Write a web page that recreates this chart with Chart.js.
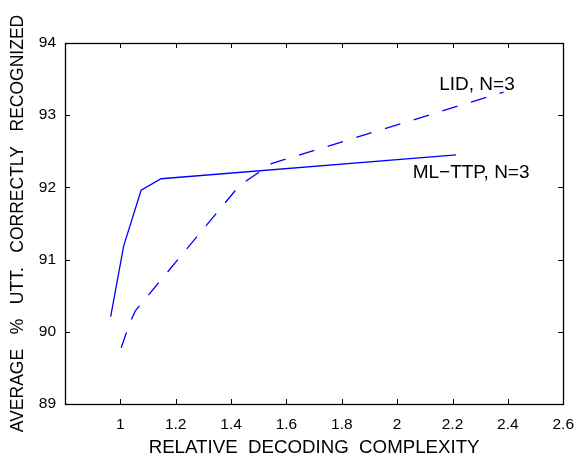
<!DOCTYPE html>
<html>
<head>
<meta charset="utf-8">
<script src="https://cdn.jsdelivr.net/npm/chart.js@4.4.1/dist/chart.umd.min.js"></script>
<style>
  html, body { margin: 0; padding: 0; background: #fff; }
  #wrap { width: 585px; height: 459px; }
</style>
</head>
<body>
<div id="wrap"><canvas id="chart" width="585" height="459"></canvas></div>
<script>
// ML-TTP, N=3 (linha cheia)
const mlttpX = [0.965, 1.012, 1.075, 1.147, 2.213];
const mlttpY = [90.21, 91.19, 91.96, 92.12, 92.45];

// LID, N=3 (tracejada)
const lidX = [1.003, 1.035, 1.054, 1.429, 1.546, 2.384];
const lidY = [89.78, 90.13, 90.29, 92.02, 92.33, 93.32];

// marcas dos eixos
const xTicks = [1, 1.2, 1.4, 1.6, 1.8, 2, 2.2, 2.4, 2.6];
const yTicks = [89, 90, 91, 92, 93, 94];

const toPoints = (xs, ys) => xs.map((x, i) => ({ x: x, y: ys[i] }));

Chart.defaults.font.family = "'Liberation Sans', Arial, sans-serif";
Chart.defaults.color = "#000";

// caixa em volta do gráfico com marcas para dentro (estilo matlab)
const frameTicks = {
  id: "frameTicks",
  afterDraw(chart) {
    const { ctx, chartArea: a, scales } = chart;
    const x = scales.x, y = scales.y;
    const len = 5;
    ctx.save();
    ctx.strokeStyle = "#000";
    ctx.lineWidth = 1;
    ctx.beginPath();
    x.ticks.forEach((t) => {
      const px = Math.round(x.getPixelForValue(t.value)) + 0.5;
      ctx.moveTo(px, a.bottom); ctx.lineTo(px, a.bottom - len);
      ctx.moveTo(px, a.top); ctx.lineTo(px, a.top + len);
    });
    y.ticks.forEach((t) => {
      const py = Math.round(y.getPixelForValue(t.value)) + 0.5;
      ctx.moveTo(a.left, py); ctx.lineTo(a.left + len, py);
      ctx.moveTo(a.right, py); ctx.lineTo(a.right - len, py);
    });
    ctx.stroke();
    ctx.lineWidth = 1.3;
    ctx.strokeRect(Math.round(a.left) + 0.5, Math.round(a.top) + 0.5,
      Math.round(a.right - a.left), Math.round(a.bottom - a.top));
    ctx.restore();
  },
};

// textos dentro do gráfico
const notes = {
  id: "notes",
  afterDatasetsDraw(chart) {
    const { ctx, scales } = chart;
    const items = [
      { text: "LID, N=3", x: 2.152, y: 93.425 },
      { text: "ML\u2212TTP, N=3", x: 2.056, y: 92.2 },
    ];
    ctx.save();
    ctx.fillStyle = "#000";
    ctx.font = "19px 'Liberation Sans', Arial, sans-serif";
    ctx.textAlign = "left";
    ctx.textBaseline = "middle";
    items.forEach((n) => {
      ctx.fillText(n.text, scales.x.getPixelForValue(n.x), scales.y.getPixelForValue(n.y));
    });
    ctx.restore();
  },
};

const ctx = document.getElementById("chart").getContext("2d");

const myChart = new Chart(ctx, {
  type: "line",
  data: {
    datasets: [
      {
        label: "ML-TTP, N=3",
        data: toPoints(mlttpX, mlttpY),
        borderColor: "#0000ff",
        borderWidth: 1.3,
        pointRadius: 0,
        tension: 0,
      },
      {
        label: "LID, N=3",
        data: toPoints(lidX, lidY),
        borderColor: "#0000ff",
        borderWidth: 1.3,
        borderDash: [16, 14],
        pointRadius: 0,
        tension: 0,
      },
    ],
  },
  options: {
    responsive: false,
    animation: false,
    devicePixelRatio: 1,
    layout: { padding: { top: 43, right: 12, left: 0, bottom: 0 } },
    plugins: { legend: { display: false }, tooltip: { enabled: false } },
    scales: {
      x: {
        type: "linear",
        min: 0.8,
        max: 2.6,
        afterBuildTicks: (s) => { s.ticks = xTicks.map((v) => ({ value: v })); },
        afterFit: (s) => { s.height = 55; },
        grid: { display: false, drawTicks: false },
        border: { display: false },
        ticks: {
          padding: 11,
          maxRotation: 0,
          font: { size: 15.5 },
          callback: (v) => String(Math.round(v * 10) / 10),
        },
        title: {
          display: true,
          text: "RELATIVE  DECODING  COMPLEXITY",
          font: { size: 18.7 },
          padding: { top: 0, bottom: 0 },
        },
      },
      y: {
        min: 89,
        max: 94,
        afterBuildTicks: (s) => { s.ticks = yTicks.map((v) => ({ value: v })); },
        afterFit: (s) => { s.width = 65; },
        grid: { display: false, drawTicks: false },
        border: { display: false },
        ticks: { padding: 9, font: { size: 15.5 } },
        title: {
          display: true,
          text: "AVERAGE   %   UTT.   CORRECTLY   RECOGNIZED",
          font: { size: 17.5 },
          padding: { top: 8, bottom: 0 },
        },
      },
    },
  },
  plugins: [frameTicks, notes],
});
</script>
</body>
</html>
